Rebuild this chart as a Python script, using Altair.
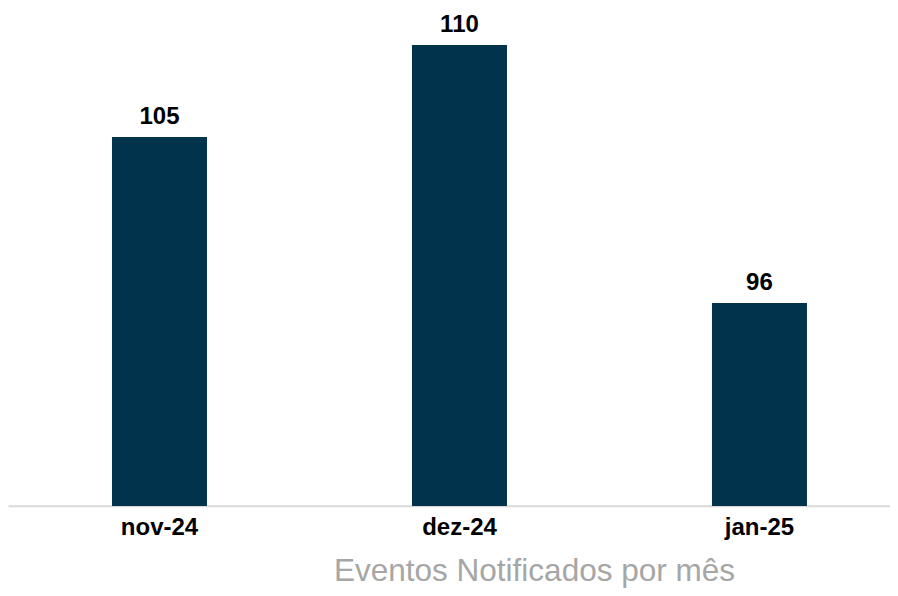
import altair as alt
import pandas as pd

months = ["nov-24", "dez-24", "jan-25"]
values = [105, 110, 96]
baseline_value = 85
title_text = "Eventos Notificados por mês"

df = pd.DataFrame({"mes": months, "eventos": values})

FONT = "Liberation Sans, Arial, Helvetica, sans-serif"
BAR_COLOR = "#02334C"

x_enc = alt.X(
    "mes:N",
    sort=months,
    scale=alt.Scale(paddingInner=0.6833, paddingOuter=0.3117, align=0.556),
    axis=alt.Axis(
        title=title_text,
        titleFont=FONT,
        titleFontSize=31.5,
        titleFontWeight="normal",
        titleColor="#a6a6a6",
        titleX=526,
        titleY=74.5,
        titleAlign="center",
        titleBaseline="alphabetic",
        domainColor="#d9d9d9",
        domainWidth=2,
        ticks=False,
        tickSize=0,
        grid=False,
        labelAngle=0,
        labelFont=FONT,
        labelFontSize=24,
        labelFontWeight="bold",
        labelColor="#000000",
        labelPadding=10,
        offset=-82.3,
    ),
)

y_scale = alt.Scale(domain=[80.55, 112], nice=False, zero=False)

bars = alt.Chart(df).mark_bar(color=BAR_COLOR).encode(
    x=x_enc,
    y=alt.Y("eventos:Q", scale=y_scale, axis=None),
    y2=alt.datum(baseline_value),
)

labels = alt.Chart(df).mark_text(
    dy=-13,
    baseline="alphabetic",
    align="center",
    font=FONT,
    fontSize=24,
    fontWeight="bold",
    color="#000000",
).encode(
    x=alt.X("mes:N", sort=months),
    y=alt.Y("eventos:Q", scale=y_scale, axis=None),
    text=alt.Text("eventos:Q"),
)

chart = (
    alt.layer(bars, labels)
    .properties(
        width=882,
        height=580,
        autosize=alt.AutoSizeParams(type="none"),
        padding=0,
        background="white",
    )
    .configure_view(stroke=None)
)

chart.save("out.html", embed_options={"renderer": "svg", "actions": False})
